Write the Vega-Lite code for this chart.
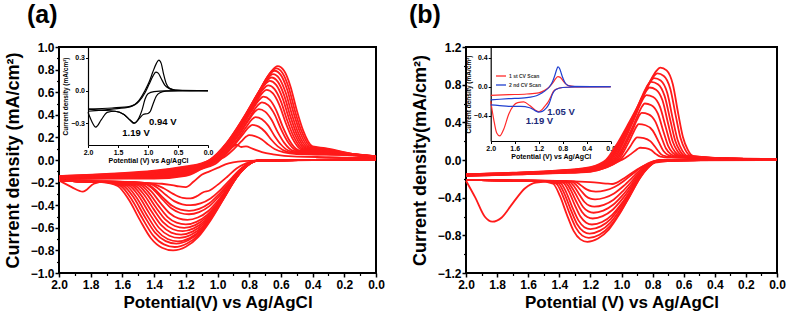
{
"$schema":"https://vega.github.io/schema/vega-lite/v6.json",
"background":"white",
"padding":{"left":3,"top":2,"right":2,"bottom":4},
"bounds":"flush",
"spacing":90,
"resolve":{"scale":{"color":"independent"},"legend":{"color":"independent"}},
"datasets":{
"a":[
{"s":"u1","x":2,"y":-0.17},{"s":"u1","x":1.7,"y":-0.165},{"s":"u1","x":1.4,"y":-0.165},{"s":"u1","x":1.2,"y":-0.14},{"s":"u1","x":1.1,"y":-0.08},{"s":"u1","x":1.0,"y":-0.02},{"s":"u1","x":0.95,"y":0.05},{"s":"u1","x":0.91,"y":0.11},{"s":"u1","x":0.88,"y":0.135},{"s":"u1","x":0.85,"y":0.115},{"s":"u1","x":0.82,"y":0.12},{"s":"u1","x":0.78,"y":0.1},{"s":"u1","x":0.72,"y":0.07},{"s":"u1","x":0.65,"y":0.05},{"s":"u1","x":0.5,"y":0.03},{"s":"u1","x":0.3,"y":0.025},{"s":"u1","x":0.15,"y":0.02},{"s":"u1","x":0,"y":0.02},
{"s":"u2","x":2,"y":-0.168},{"s":"u2","x":1.7,"y":-0.162},{"s":"u2","x":1.4,"y":-0.16},{"s":"u2","x":1.2,"y":-0.134},{"s":"u2","x":1.1,"y":-0.076},{"s":"u2","x":0.99,"y":0},{"s":"u2","x":0.943,"y":0.04},{"s":"u2","x":0.895,"y":0.099},{"s":"u2","x":0.848,"y":0.167},{"s":"u2","x":0.819,"y":0.207},{"s":"u2","x":0.8,"y":0.22},{"s":"u2","x":0.76,"y":0.209},{"s":"u2","x":0.72,"y":0.182},{"s":"u2","x":0.68,"y":0.136},{"s":"u2","x":0.64,"y":0.098},{"s":"u2","x":0.58,"y":0.068},{"s":"u2","x":0.5,"y":0.053},{"s":"u2","x":0.15,"y":0.042},{"s":"u2","x":0,"y":0.022},
{"s":"u3","x":2,"y":-0.166},{"s":"u3","x":1.7,"y":-0.159},{"s":"u3","x":1.4,"y":-0.155},{"s":"u3","x":1.2,"y":-0.128},{"s":"u3","x":1.1,"y":-0.073},{"s":"u3","x":1.0,"y":0},{"s":"u3","x":0.945,"y":0.056},{"s":"u3","x":0.89,"y":0.14},{"s":"u3","x":0.835,"y":0.236},{"s":"u3","x":0.802,"y":0.291},{"s":"u3","x":0.78,"y":0.31},{"s":"u3","x":0.74,"y":0.295},{"s":"u3","x":0.7,"y":0.25},{"s":"u3","x":0.66,"y":0.179},{"s":"u3","x":0.62,"y":0.12},{"s":"u3","x":0.56,"y":0.072},{"s":"u3","x":0.48,"y":0.057},{"s":"u3","x":0.15,"y":0.043},{"s":"u3","x":0,"y":0.023},
{"s":"u4","x":2,"y":-0.164},{"s":"u4","x":1.7,"y":-0.156},{"s":"u4","x":1.4,"y":-0.15},{"s":"u4","x":1.2,"y":-0.122},{"s":"u4","x":1.1,"y":-0.069},{"s":"u4","x":1.0,"y":0},{"s":"u4","x":0.94,"y":0.068},{"s":"u4","x":0.88,"y":0.171},{"s":"u4","x":0.82,"y":0.289},{"s":"u4","x":0.784,"y":0.357},{"s":"u4","x":0.76,"y":0.38},{"s":"u4","x":0.72,"y":0.361},{"s":"u4","x":0.68,"y":0.304},{"s":"u4","x":0.64,"y":0.213},{"s":"u4","x":0.6,"y":0.137},{"s":"u4","x":0.54,"y":0.076},{"s":"u4","x":0.46,"y":0.061},{"s":"u4","x":0.15,"y":0.044},{"s":"u4","x":0,"y":0.024},
{"s":"u5","x":2,"y":-0.162},{"s":"u5","x":1.7,"y":-0.153},{"s":"u5","x":1.4,"y":-0.145},{"s":"u5","x":1.2,"y":-0.116},{"s":"u5","x":1.1,"y":-0.066},{"s":"u5","x":1.01,"y":0},{"s":"u5","x":0.943,"y":0.081},{"s":"u5","x":0.875,"y":0.203},{"s":"u5","x":0.808,"y":0.342},{"s":"u5","x":0.767,"y":0.423},{"s":"u5","x":0.74,"y":0.45},{"s":"u5","x":0.7,"y":0.428},{"s":"u5","x":0.66,"y":0.358},{"s":"u5","x":0.62,"y":0.247},{"s":"u5","x":0.58,"y":0.154},{"s":"u5","x":0.52,"y":0.08},{"s":"u5","x":0.44,"y":0.065},{"s":"u5","x":0.15,"y":0.045},{"s":"u5","x":0,"y":0.025},
{"s":"u6","x":2,"y":-0.16},{"s":"u6","x":1.7,"y":-0.15},{"s":"u6","x":1.4,"y":-0.14},{"s":"u6","x":1.2,"y":-0.11},{"s":"u6","x":1.1,"y":-0.062},{"s":"u6","x":1.01,"y":0},{"s":"u6","x":0.938,"y":0.092},{"s":"u6","x":0.865,"y":0.23},{"s":"u6","x":0.793,"y":0.388},{"s":"u6","x":0.749,"y":0.479},{"s":"u6","x":0.72,"y":0.51},{"s":"u6","x":0.68,"y":0.485},{"s":"u6","x":0.64,"y":0.404},{"s":"u6","x":0.6,"y":0.276},{"s":"u6","x":0.56,"y":0.169},{"s":"u6","x":0.5,"y":0.084},{"s":"u6","x":0.42,"y":0.069},{"s":"u6","x":0.15,"y":0.046},{"s":"u6","x":0,"y":0.026},
{"s":"u7","x":2,"y":-0.158},{"s":"u7","x":1.7,"y":-0.147},{"s":"u7","x":1.4,"y":-0.135},{"s":"u7","x":1.2,"y":-0.104},{"s":"u7","x":1.1,"y":-0.058},{"s":"u7","x":1.02,"y":0},{"s":"u7","x":0.943,"y":0.101},{"s":"u7","x":0.865,"y":0.252},{"s":"u7","x":0.788,"y":0.426},{"s":"u7","x":0.741,"y":0.526},{"s":"u7","x":0.71,"y":0.56},{"s":"u7","x":0.67,"y":0.532},{"s":"u7","x":0.63,"y":0.442},{"s":"u7","x":0.59,"y":0.3},{"s":"u7","x":0.55,"y":0.182},{"s":"u7","x":0.49,"y":0.088},{"s":"u7","x":0.41,"y":0.073},{"s":"u7","x":0.15,"y":0.047},{"s":"u7","x":0,"y":0.027},
{"s":"u8","x":2,"y":-0.156},{"s":"u8","x":1.7,"y":-0.144},{"s":"u8","x":1.4,"y":-0.13},{"s":"u8","x":1.2,"y":-0.098},{"s":"u8","x":1.1,"y":-0.055},{"s":"u8","x":1.02,"y":0},{"s":"u8","x":0.938,"y":0.112},{"s":"u8","x":0.855,"y":0.279},{"s":"u8","x":0.773,"y":0.471},{"s":"u8","x":0.723,"y":0.583},{"s":"u8","x":0.69,"y":0.62},{"s":"u8","x":0.65,"y":0.589},{"s":"u8","x":0.61,"y":0.488},{"s":"u8","x":0.57,"y":0.33},{"s":"u8","x":0.53,"y":0.198},{"s":"u8","x":0.47,"y":0.092},{"s":"u8","x":0.39,"y":0.077},{"s":"u8","x":0.15,"y":0.048},{"s":"u8","x":0,"y":0.028},
{"s":"u9","x":2,"y":-0.154},{"s":"u9","x":1.7,"y":-0.141},{"s":"u9","x":1.4,"y":-0.125},{"s":"u9","x":1.2,"y":-0.092},{"s":"u9","x":1.1,"y":-0.051},{"s":"u9","x":1.03,"y":0},{"s":"u9","x":0.943,"y":0.119},{"s":"u9","x":0.855,"y":0.297},{"s":"u9","x":0.768,"y":0.502},{"s":"u9","x":0.715,"y":0.62},{"s":"u9","x":0.68,"y":0.66},{"s":"u9","x":0.64,"y":0.627},{"s":"u9","x":0.6,"y":0.519},{"s":"u9","x":0.56,"y":0.35},{"s":"u9","x":0.52,"y":0.209},{"s":"u9","x":0.46,"y":0.096},{"s":"u9","x":0.38,"y":0.081},{"s":"u9","x":0.15,"y":0.049},{"s":"u9","x":0,"y":0.029},
{"s":"u10","x":2,"y":-0.152},{"s":"u10","x":1.7,"y":-0.138},{"s":"u10","x":1.4,"y":-0.12},{"s":"u10","x":1.2,"y":-0.086},{"s":"u10","x":1.1,"y":-0.048},{"s":"u10","x":1.03,"y":0},{"s":"u10","x":0.94,"y":0.126},{"s":"u10","x":0.85,"y":0.315},{"s":"u10","x":0.76,"y":0.532},{"s":"u10","x":0.706,"y":0.658},{"s":"u10","x":0.67,"y":0.7},{"s":"u10","x":0.63,"y":0.665},{"s":"u10","x":0.59,"y":0.55},{"s":"u10","x":0.55,"y":0.37},{"s":"u10","x":0.51,"y":0.22},{"s":"u10","x":0.45,"y":0.1},{"s":"u10","x":0.37,"y":0.085},{"s":"u10","x":0.15,"y":0.05},{"s":"u10","x":0,"y":0.03},
{"s":"u11","x":2,"y":-0.15},{"s":"u11","x":1.7,"y":-0.135},{"s":"u11","x":1.4,"y":-0.115},{"s":"u11","x":1.2,"y":-0.08},{"s":"u11","x":1.1,"y":-0.044},{"s":"u11","x":1.04,"y":0},{"s":"u11","x":0.945,"y":0.131},{"s":"u11","x":0.85,"y":0.329},{"s":"u11","x":0.755,"y":0.555},{"s":"u11","x":0.698,"y":0.686},{"s":"u11","x":0.66,"y":0.73},{"s":"u11","x":0.62,"y":0.694},{"s":"u11","x":0.58,"y":0.574},{"s":"u11","x":0.54,"y":0.386},{"s":"u11","x":0.5,"y":0.229},{"s":"u11","x":0.44,"y":0.104},{"s":"u11","x":0.36,"y":0.089},{"s":"u11","x":0.15,"y":0.051},{"s":"u11","x":0,"y":0.031},
{"s":"u12","x":2,"y":-0.148},{"s":"u12","x":1.7,"y":-0.132},{"s":"u12","x":1.4,"y":-0.11},{"s":"u12","x":1.2,"y":-0.074},{"s":"u12","x":1.1,"y":-0.04},{"s":"u12","x":1.04,"y":0},{"s":"u12","x":0.943,"y":0.137},{"s":"u12","x":0.845,"y":0.342},{"s":"u12","x":0.748,"y":0.578},{"s":"u12","x":0.689,"y":0.714},{"s":"u12","x":0.65,"y":0.76},{"s":"u12","x":0.61,"y":0.722},{"s":"u12","x":0.57,"y":0.597},{"s":"u12","x":0.53,"y":0.401},{"s":"u12","x":0.49,"y":0.238},{"s":"u12","x":0.43,"y":0.108},{"s":"u12","x":0.35,"y":0.093},{"s":"u12","x":0.15,"y":0.052},{"s":"u12","x":0,"y":0.032},
{"s":"u13","x":2,"y":-0.146},{"s":"u13","x":1.7,"y":-0.129},{"s":"u13","x":1.4,"y":-0.105},{"s":"u13","x":1.2,"y":-0.068},{"s":"u13","x":1.1,"y":-0.037},{"s":"u13","x":1.04,"y":0},{"s":"u13","x":0.94,"y":0.142},{"s":"u13","x":0.84,"y":0.356},{"s":"u13","x":0.74,"y":0.6},{"s":"u13","x":0.68,"y":0.743},{"s":"u13","x":0.64,"y":0.79},{"s":"u13","x":0.6,"y":0.751},{"s":"u13","x":0.56,"y":0.621},{"s":"u13","x":0.52,"y":0.417},{"s":"u13","x":0.48,"y":0.248},{"s":"u13","x":0.42,"y":0.112},{"s":"u13","x":0.34,"y":0.097},{"s":"u13","x":0.15,"y":0.053},{"s":"u13","x":0,"y":0.033},
{"s":"u14","x":2,"y":-0.144},{"s":"u14","x":1.7,"y":-0.126},{"s":"u14","x":1.4,"y":-0.1},{"s":"u14","x":1.2,"y":-0.062},{"s":"u14","x":1.1,"y":-0.033},{"s":"u14","x":1.05,"y":0},{"s":"u14","x":0.945,"y":0.146},{"s":"u14","x":0.84,"y":0.365},{"s":"u14","x":0.735,"y":0.616},{"s":"u14","x":0.672,"y":0.761},{"s":"u14","x":0.63,"y":0.81},{"s":"u14","x":0.59,"y":0.77},{"s":"u14","x":0.55,"y":0.637},{"s":"u14","x":0.51,"y":0.428},{"s":"u14","x":0.47,"y":0.255},{"s":"u14","x":0.41,"y":0.116},{"s":"u14","x":0.33,"y":0.101},{"s":"u14","x":0.15,"y":0.054},{"s":"u14","x":0,"y":0.034},
{"s":"u15","x":2,"y":-0.142},{"s":"u15","x":1.7,"y":-0.123},{"s":"u15","x":1.4,"y":-0.095},{"s":"u15","x":1.2,"y":-0.056},{"s":"u15","x":1.1,"y":-0.03},{"s":"u15","x":1.05,"y":0},{"s":"u15","x":0.943,"y":0.149},{"s":"u15","x":0.835,"y":0.374},{"s":"u15","x":0.728,"y":0.631},{"s":"u15","x":0.663,"y":0.78},{"s":"u15","x":0.62,"y":0.83},{"s":"u15","x":0.58,"y":0.789},{"s":"u15","x":0.54,"y":0.653},{"s":"u15","x":0.5,"y":0.44},{"s":"u15","x":0.46,"y":0.262},{"s":"u15","x":0.4,"y":0.12},{"s":"u15","x":0.32,"y":0.105},{"s":"u15","x":0.15,"y":0.055},{"s":"u15","x":0,"y":0.035},
{"s":"l1","x":0,"y":0},{"s":"l1","x":0.4,"y":0},{"s":"l1","x":0.6,"y":-0.003},{"s":"l1","x":0.8,"y":-0.008},{"s":"l1","x":0.93,"y":-0.03},{"s":"l1","x":1.0,"y":-0.07},{"s":"l1","x":1.05,"y":-0.1},{"s":"l1","x":1.1,"y":-0.13},{"s":"l1","x":1.15,"y":-0.19},{"s":"l1","x":1.2,"y":-0.24},{"s":"l1","x":1.26,"y":-0.23},{"s":"l1","x":1.35,"y":-0.21},{"s":"l1","x":1.5,"y":-0.2},{"s":"l1","x":1.7,"y":-0.19},{"s":"l1","x":1.78,"y":-0.21},{"s":"l1","x":1.85,"y":-0.28},{"s":"l1","x":1.92,"y":-0.24},{"s":"l1","x":2.0,"y":-0.18},
{"s":"l2","x":0,"y":0.005},{"s":"l2","x":0.4,"y":0},{"s":"l2","x":0.75,"y":-0.004},{"s":"l2","x":0.82,"y":-0.03},{"s":"l2","x":0.88,"y":-0.075},{"s":"l2","x":0.94,"y":-0.15},{"s":"l2","x":1.0,"y":-0.22},{"s":"l2","x":1.05,"y":-0.27},{"s":"l2","x":1.09,"y":-0.285},{"s":"l2","x":1.13,"y":-0.32},{"s":"l2","x":1.17,"y":-0.34},{"s":"l2","x":1.22,"y":-0.335},{"s":"l2","x":1.28,"y":-0.3},{"s":"l2","x":1.34,"y":-0.25},{"s":"l2","x":1.4,"y":-0.215},{"s":"l2","x":1.5,"y":-0.2},{"s":"l2","x":1.85,"y":-0.19},{"s":"l2","x":2.0,"y":-0.18},
{"s":"l3","x":0,"y":0.005},{"s":"l3","x":0.4,"y":0},{"s":"l3","x":0.75,"y":-0.004},{"s":"l3","x":0.817,"y":-0.04},{"s":"l3","x":0.868,"y":-0.096},{"s":"l3","x":0.918,"y":-0.172},{"s":"l3","x":0.981,"y":-0.264},{"s":"l3","x":1.044,"y":-0.34},{"s":"l3","x":1.107,"y":-0.384},{"s":"l3","x":1.17,"y":-0.4},{"s":"l3","x":1.222,"y":-0.392},{"s":"l3","x":1.273,"y":-0.364},{"s":"l3","x":1.325,"y":-0.31},{"s":"l3","x":1.376,"y":-0.25},{"s":"l3","x":1.428,"y":-0.21},{"s":"l3","x":1.528,"y":-0.195},{"s":"l3","x":1.85,"y":-0.19},{"s":"l3","x":2.0,"y":-0.18},
{"s":"l4","x":0,"y":0.005},{"s":"l4","x":0.4,"y":0},{"s":"l4","x":0.75,"y":-0.005},{"s":"l4","x":0.819,"y":-0.045},{"s":"l4","x":0.87,"y":-0.108},{"s":"l4","x":0.922,"y":-0.194},{"s":"l4","x":0.987,"y":-0.297},{"s":"l4","x":1.051,"y":-0.383},{"s":"l4","x":1.116,"y":-0.432},{"s":"l4","x":1.18,"y":-0.45},{"s":"l4","x":1.233,"y":-0.44},{"s":"l4","x":1.286,"y":-0.405},{"s":"l4","x":1.34,"y":-0.338},{"s":"l4","x":1.393,"y":-0.263},{"s":"l4","x":1.446,"y":-0.213},{"s":"l4","x":1.546,"y":-0.195},{"s":"l4","x":1.85,"y":-0.19},{"s":"l4","x":2.0,"y":-0.18},
{"s":"l5","x":0,"y":0.005},{"s":"l5","x":0.4,"y":0},{"s":"l5","x":0.75,"y":-0.005},{"s":"l5","x":0.819,"y":-0.048},{"s":"l5","x":0.87,"y":-0.115},{"s":"l5","x":0.922,"y":-0.206},{"s":"l5","x":0.987,"y":-0.317},{"s":"l5","x":1.051,"y":-0.408},{"s":"l5","x":1.116,"y":-0.461},{"s":"l5","x":1.18,"y":-0.48},{"s":"l5","x":1.235,"y":-0.469},{"s":"l5","x":1.289,"y":-0.43},{"s":"l5","x":1.344,"y":-0.354},{"s":"l5","x":1.398,"y":-0.27},{"s":"l5","x":1.453,"y":-0.214},{"s":"l5","x":1.553,"y":-0.195},{"s":"l5","x":1.85,"y":-0.19},{"s":"l5","x":2.0,"y":-0.18},
{"s":"l6","x":0,"y":0.005},{"s":"l6","x":0.4,"y":0},{"s":"l6","x":0.75,"y":-0.005},{"s":"l6","x":0.82,"y":-0.053},{"s":"l6","x":0.873,"y":-0.127},{"s":"l6","x":0.926,"y":-0.228},{"s":"l6","x":0.992,"y":-0.35},{"s":"l6","x":1.058,"y":-0.451},{"s":"l6","x":1.124,"y":-0.509},{"s":"l6","x":1.19,"y":-0.53},{"s":"l6","x":1.246,"y":-0.517},{"s":"l6","x":1.302,"y":-0.471},{"s":"l6","x":1.359,"y":-0.382},{"s":"l6","x":1.415,"y":-0.283},{"s":"l6","x":1.471,"y":-0.217},{"s":"l6","x":1.571,"y":-0.195},{"s":"l6","x":1.85,"y":-0.19},{"s":"l6","x":2.0,"y":-0.18},
{"s":"l7","x":0,"y":0.005},{"s":"l7","x":0.4,"y":0},{"s":"l7","x":0.75,"y":-0.006},{"s":"l7","x":0.822,"y":-0.057},{"s":"l7","x":0.876,"y":-0.137},{"s":"l7","x":0.93,"y":-0.245},{"s":"l7","x":0.998,"y":-0.376},{"s":"l7","x":1.065,"y":-0.485},{"s":"l7","x":1.133,"y":-0.547},{"s":"l7","x":1.2,"y":-0.57},{"s":"l7","x":1.258,"y":-0.555},{"s":"l7","x":1.316,"y":-0.503},{"s":"l7","x":1.373,"y":-0.404},{"s":"l7","x":1.431,"y":-0.293},{"s":"l7","x":1.489,"y":-0.219},{"s":"l7","x":1.589,"y":-0.195},{"s":"l7","x":1.85,"y":-0.19},{"s":"l7","x":2.0,"y":-0.18},
{"s":"l8","x":0,"y":0.005},{"s":"l8","x":0.4,"y":0},{"s":"l8","x":0.75,"y":-0.006},{"s":"l8","x":0.824,"y":-0.06},{"s":"l8","x":0.879,"y":-0.144},{"s":"l8","x":0.934,"y":-0.258},{"s":"l8","x":1.003,"y":-0.396},{"s":"l8","x":1.072,"y":-0.51},{"s":"l8","x":1.141,"y":-0.576},{"s":"l8","x":1.21,"y":-0.6},{"s":"l8","x":1.269,"y":-0.584},{"s":"l8","x":1.328,"y":-0.528},{"s":"l8","x":1.388,"y":-0.42},{"s":"l8","x":1.447,"y":-0.3},{"s":"l8","x":1.506,"y":-0.22},{"s":"l8","x":1.606,"y":-0.195},{"s":"l8","x":1.85,"y":-0.19},{"s":"l8","x":2.0,"y":-0.18},
{"s":"l9","x":0,"y":0.005},{"s":"l9","x":0.4,"y":0},{"s":"l9","x":0.75,"y":-0.006},{"s":"l9","x":0.825,"y":-0.063},{"s":"l9","x":0.882,"y":-0.151},{"s":"l9","x":0.938,"y":-0.271},{"s":"l9","x":1.008,"y":-0.416},{"s":"l9","x":1.079,"y":-0.536},{"s":"l9","x":1.15,"y":-0.605},{"s":"l9","x":1.22,"y":-0.63},{"s":"l9","x":1.281,"y":-0.613},{"s":"l9","x":1.342,"y":-0.553},{"s":"l9","x":1.402,"y":-0.437},{"s":"l9","x":1.463,"y":-0.308},{"s":"l9","x":1.524,"y":-0.222},{"s":"l9","x":1.624,"y":-0.195},{"s":"l9","x":1.85,"y":-0.19},{"s":"l9","x":2.0,"y":-0.18},
{"s":"l10","x":0,"y":0.005},{"s":"l10","x":0.4,"y":0},{"s":"l10","x":0.75,"y":-0.007},{"s":"l10","x":0.827,"y":-0.066},{"s":"l10","x":0.884,"y":-0.158},{"s":"l10","x":0.942,"y":-0.284},{"s":"l10","x":1.014,"y":-0.436},{"s":"l10","x":1.086,"y":-0.561},{"s":"l10","x":1.158,"y":-0.634},{"s":"l10","x":1.23,"y":-0.66},{"s":"l10","x":1.292,"y":-0.642},{"s":"l10","x":1.355,"y":-0.577},{"s":"l10","x":1.417,"y":-0.453},{"s":"l10","x":1.48,"y":-0.315},{"s":"l10","x":1.542,"y":-0.223},{"s":"l10","x":1.642,"y":-0.195},{"s":"l10","x":1.85,"y":-0.19},{"s":"l10","x":2.0,"y":-0.18},
{"s":"l11","x":0,"y":0.005},{"s":"l11","x":0.4,"y":0},{"s":"l11","x":0.75,"y":-0.007},{"s":"l11","x":0.828,"y":-0.069},{"s":"l11","x":0.887,"y":-0.166},{"s":"l11","x":0.946,"y":-0.297},{"s":"l11","x":1.02,"y":-0.455},{"s":"l11","x":1.093,"y":-0.587},{"s":"l11","x":1.167,"y":-0.662},{"s":"l11","x":1.24,"y":-0.69},{"s":"l11","x":1.304,"y":-0.67},{"s":"l11","x":1.368,"y":-0.602},{"s":"l11","x":1.431,"y":-0.47},{"s":"l11","x":1.495,"y":-0.323},{"s":"l11","x":1.559,"y":-0.225},{"s":"l11","x":1.659,"y":-0.195},{"s":"l11","x":1.85,"y":-0.19},{"s":"l11","x":2.0,"y":-0.18},
{"s":"l12","x":0,"y":0.005},{"s":"l12","x":0.4,"y":0},{"s":"l12","x":0.75,"y":-0.007},{"s":"l12","x":0.83,"y":-0.072},{"s":"l12","x":0.89,"y":-0.173},{"s":"l12","x":0.95,"y":-0.31},{"s":"l12","x":1.025,"y":-0.475},{"s":"l12","x":1.1,"y":-0.612},{"s":"l12","x":1.175,"y":-0.691},{"s":"l12","x":1.25,"y":-0.72},{"s":"l12","x":1.315,"y":-0.699},{"s":"l12","x":1.381,"y":-0.626},{"s":"l12","x":1.446,"y":-0.486},{"s":"l12","x":1.512,"y":-0.33},{"s":"l12","x":1.577,"y":-0.226},{"s":"l12","x":1.677,"y":-0.195},{"s":"l12","x":1.85,"y":-0.19},{"s":"l12","x":2.0,"y":-0.18},
{"s":"l13","x":0,"y":0.005},{"s":"l13","x":0.4,"y":0},{"s":"l13","x":0.75,"y":-0.007},{"s":"l13","x":0.832,"y":-0.074},{"s":"l13","x":0.893,"y":-0.178},{"s":"l13","x":0.954,"y":-0.318},{"s":"l13","x":1.031,"y":-0.488},{"s":"l13","x":1.107,"y":-0.629},{"s":"l13","x":1.184,"y":-0.71},{"s":"l13","x":1.26,"y":-0.74},{"s":"l13","x":1.327,"y":-0.718},{"s":"l13","x":1.394,"y":-0.643},{"s":"l13","x":1.461,"y":-0.497},{"s":"l13","x":1.528,"y":-0.335},{"s":"l13","x":1.595,"y":-0.227},{"s":"l13","x":1.695,"y":-0.195},{"s":"l13","x":1.85,"y":-0.19},{"s":"l13","x":2.0,"y":-0.18},
{"s":"l14","x":0,"y":0.005},{"s":"l14","x":0.4,"y":0},{"s":"l14","x":0.75,"y":-0.008},{"s":"l14","x":0.833,"y":-0.077},{"s":"l14","x":0.894,"y":-0.185},{"s":"l14","x":0.956,"y":-0.331},{"s":"l14","x":1.036,"y":-0.508},{"s":"l14","x":1.114,"y":-0.655},{"s":"l14","x":1.192,"y":-0.739},{"s":"l14","x":1.27,"y":-0.77},{"s":"l14","x":1.338,"y":-0.747},{"s":"l14","x":1.407,"y":-0.667},{"s":"l14","x":1.475,"y":-0.514},{"s":"l14","x":1.544,"y":-0.343},{"s":"l14","x":1.612,"y":-0.229},{"s":"l14","x":1.712,"y":-0.195},{"s":"l14","x":1.85,"y":-0.19},{"s":"l14","x":2.0,"y":-0.18},
{"s":"l15","x":0,"y":0.005},{"s":"l15","x":0.4,"y":0},{"s":"l15","x":0.75,"y":-0.008},{"s":"l15","x":0.835,"y":-0.08},{"s":"l15","x":0.898,"y":-0.192},{"s":"l15","x":0.962,"y":-0.344},{"s":"l15","x":1.041,"y":-0.528},{"s":"l15","x":1.121,"y":-0.68},{"s":"l15","x":1.2,"y":-0.768},{"s":"l15","x":1.28,"y":-0.8},{"s":"l15","x":1.35,"y":-0.776},{"s":"l15","x":1.42,"y":-0.692},{"s":"l15","x":1.49,"y":-0.53},{"s":"l15","x":1.56,"y":-0.35},{"s":"l15","x":1.63,"y":-0.23},{"s":"l15","x":1.73,"y":-0.195},{"s":"l15","x":1.85,"y":-0.19},{"s":"l15","x":2.0,"y":-0.18}
],
"b":[
{"s":"u1","x":2,"y":-0.17},{"s":"u1","x":1.7,"y":-0.155},{"s":"u1","x":1.4,"y":-0.14},{"s":"u1","x":1.2,"y":-0.125},{"s":"u1","x":1.0,"y":0},{"s":"u1","x":0.976,"y":0.022},{"s":"u1","x":0.952,"y":0.049},{"s":"u1","x":0.928,"y":0.078},{"s":"u1","x":0.904,"y":0.109},{"s":"u1","x":0.89,"y":0.125},{"s":"u1","x":0.88,"y":0.13},{"s":"u1","x":0.845,"y":0.126},{"s":"u1","x":0.81,"y":0.107},{"s":"u1","x":0.78,"y":0.065},{"s":"u1","x":0.75,"y":0.035},{"s":"u1","x":0.72,"y":0.028},{"s":"u1","x":0.68,"y":0.025},{"s":"u1","x":0.3,"y":0.015},{"s":"u1","x":0,"y":0.01},
{"s":"u2","x":2,"y":-0.168},{"s":"u2","x":1.7,"y":-0.153},{"s":"u2","x":1.4,"y":-0.137},{"s":"u2","x":1.2,"y":-0.12},{"s":"u2","x":1.01,"y":0},{"s":"u2","x":0.988,"y":0.041},{"s":"u2","x":0.966,"y":0.091},{"s":"u2","x":0.944,"y":0.144},{"s":"u2","x":0.922,"y":0.202},{"s":"u2","x":0.909,"y":0.23},{"s":"u2","x":0.9,"y":0.24},{"s":"u2","x":0.856,"y":0.233},{"s":"u2","x":0.813,"y":0.197},{"s":"u2","x":0.775,"y":0.12},{"s":"u2","x":0.745,"y":0.06},{"s":"u2","x":0.715,"y":0.039},{"s":"u2","x":0.675,"y":0.03},{"s":"u2","x":0.3,"y":0.015},{"s":"u2","x":0,"y":0.01},
{"s":"u3","x":2,"y":-0.166},{"s":"u3","x":1.7,"y":-0.151},{"s":"u3","x":1.4,"y":-0.134},{"s":"u3","x":1.2,"y":-0.115},{"s":"u3","x":1.02,"y":0},{"s":"u3","x":0.994,"y":0.065},{"s":"u3","x":0.968,"y":0.144},{"s":"u3","x":0.942,"y":0.228},{"s":"u3","x":0.916,"y":0.319},{"s":"u3","x":0.9,"y":0.365},{"s":"u3","x":0.89,"y":0.38},{"s":"u3","x":0.845,"y":0.369},{"s":"u3","x":0.799,"y":0.312},{"s":"u3","x":0.76,"y":0.19},{"s":"u3","x":0.73,"y":0.095},{"s":"u3","x":0.7,"y":0.053},{"s":"u3","x":0.66,"y":0.035},{"s":"u3","x":0.3,"y":0.015},{"s":"u3","x":0,"y":0.01},
{"s":"u4","x":2,"y":-0.164},{"s":"u4","x":1.7,"y":-0.149},{"s":"u4","x":1.4,"y":-0.131},{"s":"u4","x":1.2,"y":-0.11},{"s":"u4","x":1.03,"y":0},{"s":"u4","x":0.998,"y":0.085},{"s":"u4","x":0.966,"y":0.19},{"s":"u4","x":0.934,"y":0.3},{"s":"u4","x":0.902,"y":0.42},{"s":"u4","x":0.883,"y":0.48},{"s":"u4","x":0.87,"y":0.5},{"s":"u4","x":0.826,"y":0.485},{"s":"u4","x":0.783,"y":0.41},{"s":"u4","x":0.745,"y":0.25},{"s":"u4","x":0.715,"y":0.125},{"s":"u4","x":0.685,"y":0.065},{"s":"u4","x":0.645,"y":0.037},{"s":"u4","x":0.3,"y":0.015},{"s":"u4","x":0,"y":0.01},
{"s":"u5","x":2,"y":-0.162},{"s":"u5","x":1.7,"y":-0.147},{"s":"u5","x":1.4,"y":-0.128},{"s":"u5","x":1.2,"y":-0.105},{"s":"u5","x":1.04,"y":0},{"s":"u5","x":1.002,"y":0.102},{"s":"u5","x":0.964,"y":0.228},{"s":"u5","x":0.926,"y":0.36},{"s":"u5","x":0.888,"y":0.504},{"s":"u5","x":0.865,"y":0.576},{"s":"u5","x":0.85,"y":0.6},{"s":"u5","x":0.808,"y":0.582},{"s":"u5","x":0.766,"y":0.492},{"s":"u5","x":0.73,"y":0.3},{"s":"u5","x":0.7,"y":0.15},{"s":"u5","x":0.67,"y":0.075},{"s":"u5","x":0.63,"y":0.038},{"s":"u5","x":0.3,"y":0.015},{"s":"u5","x":0,"y":0.01},
{"s":"u6","x":2,"y":-0.16},{"s":"u6","x":1.7,"y":-0.145},{"s":"u6","x":1.4,"y":-0.125},{"s":"u6","x":1.2,"y":-0.1},{"s":"u6","x":1.05,"y":0},{"s":"u6","x":1.008,"y":0.117},{"s":"u6","x":0.966,"y":0.262},{"s":"u6","x":0.924,"y":0.414},{"s":"u6","x":0.882,"y":0.58},{"s":"u6","x":0.857,"y":0.662},{"s":"u6","x":0.84,"y":0.69},{"s":"u6","x":0.796,"y":0.669},{"s":"u6","x":0.753,"y":0.566},{"s":"u6","x":0.715,"y":0.345},{"s":"u6","x":0.685,"y":0.173},{"s":"u6","x":0.655,"y":0.084},{"s":"u6","x":0.615,"y":0.039},{"s":"u6","x":0.3,"y":0.015},{"s":"u6","x":0,"y":0.01},
{"s":"u7","x":2,"y":-0.158},{"s":"u7","x":1.7,"y":-0.143},{"s":"u7","x":1.4,"y":-0.122},{"s":"u7","x":1.2,"y":-0.095},{"s":"u7","x":1.06,"y":0},{"s":"u7","x":1.012,"y":0.131},{"s":"u7","x":0.964,"y":0.293},{"s":"u7","x":0.916,"y":0.462},{"s":"u7","x":0.868,"y":0.647},{"s":"u7","x":0.839,"y":0.739},{"s":"u7","x":0.82,"y":0.77},{"s":"u7","x":0.778,"y":0.747},{"s":"u7","x":0.736,"y":0.631},{"s":"u7","x":0.7,"y":0.385},{"s":"u7","x":0.67,"y":0.193},{"s":"u7","x":0.64,"y":0.092},{"s":"u7","x":0.6,"y":0.04},{"s":"u7","x":0.3,"y":0.015},{"s":"u7","x":0,"y":0.01},
{"s":"u8","x":2,"y":-0.156},{"s":"u8","x":1.7,"y":-0.141},{"s":"u8","x":1.4,"y":-0.119},{"s":"u8","x":1.2,"y":-0.09},{"s":"u8","x":1.07,"y":0},{"s":"u8","x":1.018,"y":0.141},{"s":"u8","x":0.966,"y":0.315},{"s":"u8","x":0.914,"y":0.498},{"s":"u8","x":0.862,"y":0.697},{"s":"u8","x":0.831,"y":0.797},{"s":"u8","x":0.81,"y":0.83},{"s":"u8","x":0.766,"y":0.805},{"s":"u8","x":0.723,"y":0.681},{"s":"u8","x":0.685,"y":0.415},{"s":"u8","x":0.655,"y":0.208},{"s":"u8","x":0.625,"y":0.098},{"s":"u8","x":0.585,"y":0.04},{"s":"u8","x":0.3,"y":0.015},{"s":"u8","x":0,"y":0.01},
{"s":"u9","x":2,"y":-0.154},{"s":"u9","x":1.7,"y":-0.139},{"s":"u9","x":1.4,"y":-0.116},{"s":"u9","x":1.2,"y":-0.085},{"s":"u9","x":1.08,"y":0},{"s":"u9","x":1.022,"y":0.148},{"s":"u9","x":0.964,"y":0.331},{"s":"u9","x":0.906,"y":0.522},{"s":"u9","x":0.848,"y":0.731},{"s":"u9","x":0.813,"y":0.835},{"s":"u9","x":0.79,"y":0.87},{"s":"u9","x":0.748,"y":0.844},{"s":"u9","x":0.706,"y":0.713},{"s":"u9","x":0.67,"y":0.435},{"s":"u9","x":0.64,"y":0.218},{"s":"u9","x":0.61,"y":0.102},{"s":"u9","x":0.57,"y":0.04},{"s":"u9","x":0.3,"y":0.015},{"s":"u9","x":0,"y":0.01},
{"s":"u10","x":2,"y":-0.152},{"s":"u10","x":1.7,"y":-0.137},{"s":"u10","x":1.4,"y":-0.113},{"s":"u10","x":1.2,"y":-0.08},{"s":"u10","x":1.09,"y":0},{"s":"u10","x":1.026,"y":0.156},{"s":"u10","x":0.962,"y":0.35},{"s":"u10","x":0.898,"y":0.552},{"s":"u10","x":0.834,"y":0.773},{"s":"u10","x":0.796,"y":0.883},{"s":"u10","x":0.77,"y":0.92},{"s":"u10","x":0.728,"y":0.892},{"s":"u10","x":0.686,"y":0.754},{"s":"u10","x":0.65,"y":0.46},{"s":"u10","x":0.62,"y":0.23},{"s":"u10","x":0.59,"y":0.107},{"s":"u10","x":0.55,"y":0.04},{"s":"u10","x":0.3,"y":0.015},{"s":"u10","x":0,"y":0.01},
{"s":"u11","x":2,"y":-0.15},{"s":"u11","x":1.7,"y":-0.135},{"s":"u11","x":1.4,"y":-0.11},{"s":"u11","x":1.2,"y":-0.075},{"s":"u11","x":1.1,"y":0},{"s":"u11","x":1.03,"y":0.167},{"s":"u11","x":0.96,"y":0.372},{"s":"u11","x":0.89,"y":0.588},{"s":"u11","x":0.82,"y":0.823},{"s":"u11","x":0.778,"y":0.941},{"s":"u11","x":0.75,"y":0.98},{"s":"u11","x":0.71,"y":0.951},{"s":"u11","x":0.67,"y":0.804},{"s":"u11","x":0.635,"y":0.49},{"s":"u11","x":0.605,"y":0.245},{"s":"u11","x":0.575,"y":0.113},{"s":"u11","x":0.535,"y":0.04},{"s":"u11","x":0.3,"y":0.015},{"s":"u11","x":0,"y":0.01},
{"s":"l1","x":0,"y":0},{"s":"l1","x":0.6,"y":-0.005},{"s":"l1","x":0.8,"y":-0.03},{"s":"l1","x":0.9,"y":-0.1},{"s":"l1","x":0.98,"y":-0.19},{"s":"l1","x":1.03,"y":-0.24},{"s":"l1","x":1.06,"y":-0.255},{"s":"l1","x":1.1,"y":-0.25},{"s":"l1","x":1.2,"y":-0.235},{"s":"l1","x":1.4,"y":-0.225},{"s":"l1","x":1.55,"y":-0.24},{"s":"l1","x":1.62,"y":-0.3},{"s":"l1","x":1.7,"y":-0.46},{"s":"l1","x":1.77,"y":-0.61},{"s":"l1","x":1.83,"y":-0.655},{"s":"l1","x":1.88,"y":-0.6},{"s":"l1","x":1.94,"y":-0.4},{"s":"l1","x":2.0,"y":-0.22},
{"s":"l2","x":0,"y":0.005},{"s":"l2","x":0.4,"y":0},{"s":"l2","x":0.765,"y":-0.003},{"s":"l2","x":0.829,"y":-0.034},{"s":"l2","x":0.877,"y":-0.081},{"s":"l2","x":0.925,"y":-0.144},{"s":"l2","x":0.985,"y":-0.222},{"s":"l2","x":1.045,"y":-0.286},{"s":"l2","x":1.105,"y":-0.323},{"s":"l2","x":1.165,"y":-0.336},{"s":"l2","x":1.193,"y":-0.331},{"s":"l2","x":1.221,"y":-0.315},{"s":"l2","x":1.249,"y":-0.284},{"s":"l2","x":1.277,"y":-0.249},{"s":"l2","x":1.305,"y":-0.226},{"s":"l2","x":1.405,"y":-0.222},{"s":"l2","x":1.7,"y":-0.218},{"s":"l2","x":2.0,"y":-0.21},
{"s":"l3","x":0,"y":0.005},{"s":"l3","x":0.4,"y":0},{"s":"l3","x":0.763,"y":-0.004},{"s":"l3","x":0.828,"y":-0.042},{"s":"l3","x":0.877,"y":-0.1},{"s":"l3","x":0.926,"y":-0.18},{"s":"l3","x":0.987,"y":-0.276},{"s":"l3","x":1.048,"y":-0.355},{"s":"l3","x":1.109,"y":-0.401},{"s":"l3","x":1.17,"y":-0.418},{"s":"l3","x":1.2,"y":-0.41},{"s":"l3","x":1.23,"y":-0.382},{"s":"l3","x":1.259,"y":-0.329},{"s":"l3","x":1.289,"y":-0.27},{"s":"l3","x":1.319,"y":-0.23},{"s":"l3","x":1.419,"y":-0.222},{"s":"l3","x":1.7,"y":-0.218},{"s":"l3","x":2.0,"y":-0.21},
{"s":"l4","x":0,"y":0.005},{"s":"l4","x":0.4,"y":0},{"s":"l4","x":0.762,"y":-0.005},{"s":"l4","x":0.828,"y":-0.05},{"s":"l4","x":0.878,"y":-0.119},{"s":"l4","x":0.927,"y":-0.213},{"s":"l4","x":0.989,"y":-0.327},{"s":"l4","x":1.051,"y":-0.422},{"s":"l4","x":1.113,"y":-0.476},{"s":"l4","x":1.175,"y":-0.496},{"s":"l4","x":1.206,"y":-0.485},{"s":"l4","x":1.238,"y":-0.446},{"s":"l4","x":1.269,"y":-0.372},{"s":"l4","x":1.301,"y":-0.289},{"s":"l4","x":1.332,"y":-0.234},{"s":"l4","x":1.432,"y":-0.222},{"s":"l4","x":1.7,"y":-0.218},{"s":"l4","x":2.0,"y":-0.21},
{"s":"l5","x":0,"y":0.005},{"s":"l5","x":0.4,"y":0},{"s":"l5","x":0.76,"y":-0.006},{"s":"l5","x":0.827,"y":-0.056},{"s":"l5","x":0.878,"y":-0.134},{"s":"l5","x":0.928,"y":-0.241},{"s":"l5","x":0.991,"y":-0.37},{"s":"l5","x":1.054,"y":-0.476},{"s":"l5","x":1.117,"y":-0.538},{"s":"l5","x":1.18,"y":-0.56},{"s":"l5","x":1.213,"y":-0.546},{"s":"l5","x":1.247,"y":-0.499},{"s":"l5","x":1.28,"y":-0.407},{"s":"l5","x":1.314,"y":-0.305},{"s":"l5","x":1.347,"y":-0.237},{"s":"l5","x":1.447,"y":-0.222},{"s":"l5","x":1.7,"y":-0.218},{"s":"l5","x":2.0,"y":-0.21},
{"s":"l6","x":0,"y":0.005},{"s":"l6","x":0.4,"y":0},{"s":"l6","x":0.758,"y":-0.006},{"s":"l6","x":0.826,"y":-0.062},{"s":"l6","x":0.878,"y":-0.149},{"s":"l6","x":0.929,"y":-0.267},{"s":"l6","x":0.993,"y":-0.41},{"s":"l6","x":1.057,"y":-0.528},{"s":"l6","x":1.121,"y":-0.596},{"s":"l6","x":1.185,"y":-0.621},{"s":"l6","x":1.22,"y":-0.605},{"s":"l6","x":1.255,"y":-0.549},{"s":"l6","x":1.291,"y":-0.441},{"s":"l6","x":1.326,"y":-0.32},{"s":"l6","x":1.361,"y":-0.24},{"s":"l6","x":1.461,"y":-0.222},{"s":"l6","x":1.7,"y":-0.218},{"s":"l6","x":2.0,"y":-0.21},
{"s":"l7","x":0,"y":0.005},{"s":"l7","x":0.4,"y":0},{"s":"l7","x":0.757,"y":-0.007},{"s":"l7","x":0.826,"y":-0.069},{"s":"l7","x":0.878,"y":-0.164},{"s":"l7","x":0.93,"y":-0.295},{"s":"l7","x":0.995,"y":-0.452},{"s":"l7","x":1.06,"y":-0.582},{"s":"l7","x":1.125,"y":-0.658},{"s":"l7","x":1.19,"y":-0.685},{"s":"l7","x":1.227,"y":-0.666},{"s":"l7","x":1.264,"y":-0.601},{"s":"l7","x":1.301,"y":-0.476},{"s":"l7","x":1.338,"y":-0.336},{"s":"l7","x":1.375,"y":-0.243},{"s":"l7","x":1.475,"y":-0.222},{"s":"l7","x":1.7,"y":-0.218},{"s":"l7","x":2.0,"y":-0.21},
{"s":"l8","x":0,"y":0.005},{"s":"l8","x":0.4,"y":0},{"s":"l8","x":0.76,"y":-0.007},{"s":"l8","x":0.83,"y":-0.073},{"s":"l8","x":0.883,"y":-0.176},{"s":"l8","x":0.936,"y":-0.316},{"s":"l8","x":1.002,"y":-0.484},{"s":"l8","x":1.068,"y":-0.624},{"s":"l8","x":1.134,"y":-0.705},{"s":"l8","x":1.2,"y":-0.734},{"s":"l8","x":1.239,"y":-0.713},{"s":"l8","x":1.277,"y":-0.641},{"s":"l8","x":1.316,"y":-0.503},{"s":"l8","x":1.354,"y":-0.349},{"s":"l8","x":1.393,"y":-0.246},{"s":"l8","x":1.493,"y":-0.222},{"s":"l8","x":1.7,"y":-0.218},{"s":"l8","x":2.0,"y":-0.21},
{"s":"l9","x":0,"y":0.005},{"s":"l9","x":0.4,"y":0},{"s":"l9","x":0.758,"y":-0.008},{"s":"l9","x":0.83,"y":-0.078},{"s":"l9","x":0.883,"y":-0.187},{"s":"l9","x":0.937,"y":-0.336},{"s":"l9","x":1.004,"y":-0.515},{"s":"l9","x":1.071,"y":-0.664},{"s":"l9","x":1.138,"y":-0.75},{"s":"l9","x":1.205,"y":-0.781},{"s":"l9","x":1.245,"y":-0.759},{"s":"l9","x":1.286,"y":-0.68},{"s":"l9","x":1.326,"y":-0.529},{"s":"l9","x":1.367,"y":-0.36},{"s":"l9","x":1.407,"y":-0.248},{"s":"l9","x":1.507,"y":-0.222},{"s":"l9","x":1.7,"y":-0.218},{"s":"l9","x":2.0,"y":-0.21},
{"s":"l10","x":0,"y":0.005},{"s":"l10","x":0.4,"y":0},{"s":"l10","x":0.757,"y":-0.008},{"s":"l10","x":0.83,"y":-0.083},{"s":"l10","x":0.884,"y":-0.198},{"s":"l10","x":0.938,"y":-0.356},{"s":"l10","x":1.006,"y":-0.546},{"s":"l10","x":1.074,"y":-0.703},{"s":"l10","x":1.142,"y":-0.794},{"s":"l10","x":1.21,"y":-0.827},{"s":"l10","x":1.252,"y":-0.803},{"s":"l10","x":1.294,"y":-0.718},{"s":"l10","x":1.337,"y":-0.554},{"s":"l10","x":1.379,"y":-0.372},{"s":"l10","x":1.421,"y":-0.25},{"s":"l10","x":1.521,"y":-0.222},{"s":"l10","x":1.7,"y":-0.218},{"s":"l10","x":2.0,"y":-0.21},
{"s":"l11","x":0,"y":0.005},{"s":"l11","x":0.4,"y":0},{"s":"l11","x":0.76,"y":-0.009},{"s":"l11","x":0.834,"y":-0.087},{"s":"l11","x":0.889,"y":-0.209},{"s":"l11","x":0.944,"y":-0.374},{"s":"l11","x":1.013,"y":-0.574},{"s":"l11","x":1.082,"y":-0.739},{"s":"l11","x":1.151,"y":-0.834},{"s":"l11","x":1.22,"y":-0.869},{"s":"l11","x":1.264,"y":-0.843},{"s":"l11","x":1.308,"y":-0.752},{"s":"l11","x":1.352,"y":-0.577},{"s":"l11","x":1.396,"y":-0.382},{"s":"l11","x":1.44,"y":-0.252},{"s":"l11","x":1.54,"y":-0.222},{"s":"l11","x":1.7,"y":-0.218},{"s":"l11","x":2.0,"y":-0.21}
],
"ia":[
{"s":"au","x":2,"y":-0.19},{"s":"au","x":1.6,"y":-0.17},{"s":"au","x":1.3,"y":-0.15},{"s":"au","x":1.15,"y":-0.1},{"s":"au","x":1.05,"y":-0.02},{"s":"au","x":0.98,"y":0.06},{"s":"au","x":0.92,"y":0.13},{"s":"au","x":0.87,"y":0.17},{"s":"au","x":0.83,"y":0.16},{"s":"au","x":0.78,"y":0.11},{"s":"au","x":0.72,"y":0.05},{"s":"au","x":0.65,"y":0.02},{"s":"au","x":0.55,"y":0.005},{"s":"au","x":0.3,"y":0},{"s":"au","x":0,"y":0},
{"s":"bu","x":2,"y":-0.17},{"s":"bu","x":1.6,"y":-0.16},{"s":"bu","x":1.3,"y":-0.145},{"s":"bu","x":1.15,"y":-0.09},{"s":"bu","x":1.05,"y":0},{"s":"bu","x":0.98,"y":0.08},{"s":"bu","x":0.92,"y":0.17},{"s":"bu","x":0.86,"y":0.25},{"s":"bu","x":0.82,"y":0.28},{"s":"bu","x":0.78,"y":0.25},{"s":"bu","x":0.74,"y":0.15},{"s":"bu","x":0.7,"y":0.07},{"s":"bu","x":0.64,"y":0.02},{"s":"bu","x":0.55,"y":0.005},{"s":"bu","x":0,"y":0},
{"s":"al","x":0,"y":0},{"s":"al","x":0.5,"y":0},{"s":"al","x":0.7,"y":-0.005},{"s":"al","x":0.8,"y":-0.02},{"s":"al","x":0.86,"y":-0.05},{"s":"al","x":0.92,"y":-0.13},{"s":"al","x":0.96,"y":-0.19},{"s":"al","x":1.0,"y":-0.21},{"s":"al","x":1.08,"y":-0.22},{"s":"al","x":1.15,"y":-0.26},{"s":"al","x":1.23,"y":-0.3},{"s":"al","x":1.3,"y":-0.27},{"s":"al","x":1.4,"y":-0.22},{"s":"al","x":1.55,"y":-0.19},{"s":"al","x":1.68,"y":-0.2},{"s":"al","x":1.78,"y":-0.27},{"s":"al","x":1.87,"y":-0.335},{"s":"al","x":1.94,"y":-0.28},{"s":"al","x":2.0,"y":-0.2},
{"s":"bl","x":0,"y":0},{"s":"bl","x":0.7,"y":-0.003},{"s":"bl","x":0.9,"y":-0.01},{"s":"bl","x":1.0,"y":-0.03},{"s":"bl","x":1.05,"y":-0.08},{"s":"bl","x":1.1,"y":-0.18},{"s":"bl","x":1.15,"y":-0.25},{"s":"bl","x":1.23,"y":-0.3},{"s":"bl","x":1.3,"y":-0.27},{"s":"bl","x":1.4,"y":-0.22},{"s":"bl","x":1.55,"y":-0.19},{"s":"bl","x":1.8,"y":-0.18},{"s":"bl","x":2.0,"y":-0.17}
],
"ta":[{"t":"0.94 V","x":0.983,"y":-0.316},{"t":"1.19 V","x":1.428,"y":-0.417}],
"ib":[
{"s":"ru","c":"1 st CV Scan","x":2,"y":-0.12},{"s":"ru","c":"1 st CV Scan","x":1.7,"y":-0.11},{"s":"ru","c":"1 st CV Scan","x":1.4,"y":-0.1},{"s":"ru","c":"1 st CV Scan","x":1.2,"y":-0.085},{"s":"ru","c":"1 st CV Scan","x":1.1,"y":-0.05},{"s":"ru","c":"1 st CV Scan","x":1.02,"y":0},{"s":"ru","c":"1 st CV Scan","x":0.96,"y":0.06},{"s":"ru","c":"1 st CV Scan","x":0.92,"y":0.11},{"s":"ru","c":"1 st CV Scan","x":0.88,"y":0.14},{"s":"ru","c":"1 st CV Scan","x":0.84,"y":0.13},{"s":"ru","c":"1 st CV Scan","x":0.8,"y":0.09},{"s":"ru","c":"1 st CV Scan","x":0.75,"y":0.04},{"s":"ru","c":"1 st CV Scan","x":0.7,"y":0.015},{"s":"ru","c":"1 st CV Scan","x":0.6,"y":0.003},{"s":"ru","c":"1 st CV Scan","x":0,"y":0},
{"s":"rl","c":"1 st CV Scan","x":0,"y":0},{"s":"rl","c":"1 st CV Scan","x":0.6,"y":-0.003},{"s":"rl","c":"1 st CV Scan","x":0.8,"y":-0.01},{"s":"rl","c":"1 st CV Scan","x":0.9,"y":-0.03},{"s":"rl","c":"1 st CV Scan","x":0.96,"y":-0.07},{"s":"rl","c":"1 st CV Scan","x":1.0,"y":-0.14},{"s":"rl","c":"1 st CV Scan","x":1.05,"y":-0.22},{"s":"rl","c":"1 st CV Scan","x":1.1,"y":-0.27},{"s":"rl","c":"1 st CV Scan","x":1.15,"y":-0.32},{"s":"rl","c":"1 st CV Scan","x":1.2,"y":-0.345},{"s":"rl","c":"1 st CV Scan","x":1.26,"y":-0.32},{"s":"rl","c":"1 st CV Scan","x":1.35,"y":-0.26},{"s":"rl","c":"1 st CV Scan","x":1.45,"y":-0.21},{"s":"rl","c":"1 st CV Scan","x":1.55,"y":-0.22},{"s":"rl","c":"1 st CV Scan","x":1.62,"y":-0.26},{"s":"rl","c":"1 st CV Scan","x":1.7,"y":-0.38},{"s":"rl","c":"1 st CV Scan","x":1.78,"y":-0.58},{"s":"rl","c":"1 st CV Scan","x":1.85,"y":-0.68},{"s":"rl","c":"1 st CV Scan","x":1.9,"y":-0.64},{"s":"rl","c":"1 st CV Scan","x":1.95,"y":-0.45},{"s":"rl","c":"1 st CV Scan","x":2.0,"y":-0.2},
{"s":"bu","c":"2 nd CV Scan","x":2,"y":-0.18},{"s":"bu","c":"2 nd CV Scan","x":1.7,"y":-0.165},{"s":"bu","c":"2 nd CV Scan","x":1.4,"y":-0.15},{"s":"bu","c":"2 nd CV Scan","x":1.2,"y":-0.11},{"s":"bu","c":"2 nd CV Scan","x":1.1,"y":-0.06},{"s":"bu","c":"2 nd CV Scan","x":1.02,"y":0},{"s":"bu","c":"2 nd CV Scan","x":0.97,"y":0.07},{"s":"bu","c":"2 nd CV Scan","x":0.93,"y":0.16},{"s":"bu","c":"2 nd CV Scan","x":0.9,"y":0.24},{"s":"bu","c":"2 nd CV Scan","x":0.88,"y":0.275},{"s":"bu","c":"2 nd CV Scan","x":0.85,"y":0.25},{"s":"bu","c":"2 nd CV Scan","x":0.81,"y":0.15},{"s":"bu","c":"2 nd CV Scan","x":0.77,"y":0.07},{"s":"bu","c":"2 nd CV Scan","x":0.72,"y":0.02},{"s":"bu","c":"2 nd CV Scan","x":0.65,"y":0.005},{"s":"bu","c":"2 nd CV Scan","x":0,"y":0},
{"s":"bl","c":"2 nd CV Scan","x":0,"y":0},{"s":"bl","c":"2 nd CV Scan","x":0.6,"y":-0.003},{"s":"bl","c":"2 nd CV Scan","x":0.8,"y":-0.01},{"s":"bl","c":"2 nd CV Scan","x":0.92,"y":-0.04},{"s":"bl","c":"2 nd CV Scan","x":0.97,"y":-0.1},{"s":"bl","c":"2 nd CV Scan","x":1.03,"y":-0.24},{"s":"bl","c":"2 nd CV Scan","x":1.08,"y":-0.3},{"s":"bl","c":"2 nd CV Scan","x":1.14,"y":-0.34},{"s":"bl","c":"2 nd CV Scan","x":1.2,"y":-0.35},{"s":"bl","c":"2 nd CV Scan","x":1.26,"y":-0.33},{"s":"bl","c":"2 nd CV Scan","x":1.35,"y":-0.29},{"s":"bl","c":"2 nd CV Scan","x":1.5,"y":-0.27},{"s":"bl","c":"2 nd CV Scan","x":1.7,"y":-0.27},{"s":"bl","c":"2 nd CV Scan","x":1.85,"y":-0.26},{"s":"bl","c":"2 nd CV Scan","x":2.0,"y":-0.25}
],
"tb":[{"t":"1.05 V","x":1.057,"y":-0.39},{"t":"1.19 V","x":1.417,"y":-0.511}]
},
"hconcat":[
{
"width":317,"height":226,
"title":{"text":"(a)","anchor":"start","frame":"group","dx":-32,"offset":13,"fontSize":25,"fontWeight":"bold","font":"Liberation Sans","color":"black"},
"resolve":{"scale":{"x":"independent","y":"independent"},"axis":{"x":"independent","y":"independent"}},
"layer":[
{"layer":[
{"data":{"name":"a"},"mark":{"type":"line","color":"#ff1a1a","strokeWidth":1.8,"interpolate":"monotone"},
"encoding":{
"x":{"field":"x","type":"quantitative","scale":{"domain":[0,2],"reverse":true,"nice":false,"zero":false},
"axis":{"orient":"bottom","values":[0,0.2,0.4,0.6,0.8,1.0,1.2,1.4,1.6,1.8,2.0],"format":".1f","title":"Potential(V) vs Ag/AgCl","titleFontSize":17,"labelFontSize":12,"tickSize":4,"tickWidth":1.5,"domain":false,"labelPadding":2,"titlePadding":4}},
"y":{"field":"y","type":"quantitative","scale":{"domain":[-1,1],"nice":false,"zero":false},
"axis":{"orient":"left","values":[-1,-0.8,-0.6,-0.4,-0.2,0,0.2,0.4,0.6,0.8,1.0],"format":".1f","title":"Current density (mA/cm²)","titleFontSize":18,"labelFontSize":12,"tickSize":4,"tickWidth":1.5,"domain":false,"labelPadding":1,"titlePadding":8}},
"detail":{"field":"s"}}},
{"data":{"name":"a"},"transform":[{"filter":"datum.s == 'u15'"}],"mark":{"type":"point","opacity":0},
"encoding":{
"x":{"field":"x","type":"quantitative","axis":{"orient":"bottom","values":[0.1,0.3,0.5,0.7,0.9,1.1,1.3,1.5,1.7,1.9],"labels":false,"title":null,"tickSize":2.5,"tickWidth":1.2,"domain":false}},
"y":{"field":"y","type":"quantitative","axis":{"orient":"left","values":[-0.9,-0.7,-0.5,-0.3,-0.1,0.1,0.3,0.5,0.7,0.9],"labels":false,"title":null,"tickSize":2.5,"tickWidth":1.2,"domain":false}}}}
],"resolve":{"axis":{"x":"independent","y":"independent"}}},
{"layer":[
{"data":{"name":"ia"},"mark":{"type":"line","color":"black","strokeWidth":1.2,"interpolate":"monotone"},
"encoding":{
"x":{"field":"x","type":"quantitative","scale":{"domain":[0,2],"reverse":true,"range":[29,149],"nice":false,"zero":false},
"axis":{"orient":"bottom","offset":-128,"values":[0,0.5,1,1.5,2],"format":".1f","title":"Potential (V) vs Ag/AgCl","titleFontSize":7,"labelFontSize":7,"tickSize":2.5,"tickWidth":1,"domainWidth":1.2,"labelPadding":1,"titlePadding":1}},
"y":{"field":"y","type":"quantitative","scale":{"domain":[-0.5,0.4],"range":[98,0],"nice":false,"zero":false},
"axis":{"orient":"left","offset":-29,"values":[-0.3,0,0.3],"format":".1f","title":"Current density (mA/cm²)","titleFontSize":6.5,"labelFontSize":7,"tickSize":2.5,"tickWidth":1,"domainWidth":1.2,"labelPadding":1,"titlePadding":2}},
"detail":{"field":"s"}}},
{"data":{"name":"ta"},"mark":{"type":"text","align":"left","baseline":"alphabetic","fontSize":9.5,"fontWeight":"bold","font":"Liberation Sans","color":"black"},
"encoding":{"x":{"field":"x","type":"quantitative"},"y":{"field":"y","type":"quantitative"},"text":{"field":"t"}}}
]}
]
},
{
"width":311,"height":226,
"title":{"text":"(b)","anchor":"start","frame":"group","dx":-57,"offset":13,"fontSize":25,"fontWeight":"bold","font":"Liberation Sans","color":"black"},
"resolve":{"scale":{"x":"independent","y":"independent"},"axis":{"x":"independent","y":"independent"}},
"layer":[
{"layer":[
{"data":{"name":"b"},"mark":{"type":"line","color":"#ff1a1a","strokeWidth":1.8,"interpolate":"monotone"},
"encoding":{
"x":{"field":"x","type":"quantitative","scale":{"domain":[0,2],"reverse":true,"nice":false,"zero":false},
"axis":{"orient":"bottom","values":[0,0.2,0.4,0.6,0.8,1.0,1.2,1.4,1.6,1.8,2.0],"format":".1f","title":"Potential (V) vs Ag/AgCl","titleFontSize":17,"labelFontSize":12,"tickSize":4,"tickWidth":1.5,"domain":false,"labelPadding":2,"titlePadding":4}},
"y":{"field":"y","type":"quantitative","scale":{"domain":[-1.2,1.2],"nice":false,"zero":false},
"axis":{"orient":"left","values":[-1.2,-0.8,-0.4,0,0.4,0.8,1.2],"format":".1f","title":"Current density(mA/cm²)","titleFontSize":18,"labelFontSize":12,"tickSize":4,"tickWidth":1.5,"domain":false,"labelPadding":1,"titlePadding":8}},
"detail":{"field":"s"}}},
{"data":{"name":"b"},"transform":[{"filter":"datum.s == 'u11'"}],"mark":{"type":"point","opacity":0},
"encoding":{
"x":{"field":"x","type":"quantitative","axis":{"orient":"bottom","values":[0.1,0.3,0.5,0.7,0.9,1.1,1.3,1.5,1.7,1.9],"labels":false,"title":null,"tickSize":2.5,"tickWidth":1.2,"domain":false}},
"y":{"field":"y","type":"quantitative","axis":{"orient":"left","values":[-1.0,-0.6,-0.2,0.2,0.6,1.0],"labels":false,"title":null,"tickSize":2.5,"tickWidth":1.2,"domain":false}}}}
],"resolve":{"axis":{"x":"independent","y":"independent"}}},
{"layer":[
{"data":{"name":"ib"},"mark":{"type":"line","strokeWidth":1.2,"interpolate":"monotone"},
"encoding":{
"x":{"field":"x","type":"quantitative","scale":{"domain":[0,2],"reverse":true,"range":[24.7,144.7],"nice":false,"zero":false},
"axis":{"orient":"bottom","offset":-132,"values":[0,0.4,0.8,1.2,1.6,2.0],"format":".1f","title":"Potential (V) vs Ag/AgCl","titleFontSize":7,"labelFontSize":7,"tickSize":2.5,"tickWidth":1,"domainWidth":1.2,"labelPadding":1,"titlePadding":1}},
"y":{"field":"y","type":"quantitative","scale":{"domain":[-0.75,0.55],"range":[94,0],"nice":false,"zero":false},
"axis":{"orient":"left","offset":-24.7,"values":[-0.4,0,0.4],"format":".1f","title":"Current density (mA/cm²)","titleFontSize":6.5,"labelFontSize":7,"tickSize":2.5,"tickWidth":1,"domainWidth":1.2,"labelPadding":1,"titlePadding":2}},
"color":{"field":"c","type":"nominal","scale":{"domain":["1 st CV Scan","2 nd CV Scan"],"range":["#ff2a2a","#2040d0"]},
"legend":{"orient":"none","legendX":29,"legendY":23,"title":null,"labelFontSize":5,"labelFont":"Liberation Sans","labelFontWeight":"bold","labelColor":"#333333","symbolType":"stroke","symbolSize":100,"symbolStrokeWidth":1.3,"rowPadding":0,"labelOffset":2,"padding":0}},
"detail":{"field":"s"}}},
{"data":{"name":"tb"},"mark":{"type":"text","align":"left","baseline":"alphabetic","fontSize":9.5,"fontWeight":"bold","font":"Liberation Sans","color":"#1c2a7a"},
"encoding":{"x":{"field":"x","type":"quantitative"},"y":{"field":"y","type":"quantitative"},"text":{"field":"t"}}}
]}
]
}
],
"config":{
"font":"Liberation Sans",
"view":{"stroke":"black","strokeWidth":2},
"axis":{"labelFont":"Liberation Sans","titleFont":"Liberation Sans","labelFontWeight":"bold","titleFontWeight":"bold","labelColor":"black","titleColor":"black","tickColor":"black","domainColor":"black","grid":false,"labelFlush":false,"labelOverlap":false,"labelBound":false}
}
}
